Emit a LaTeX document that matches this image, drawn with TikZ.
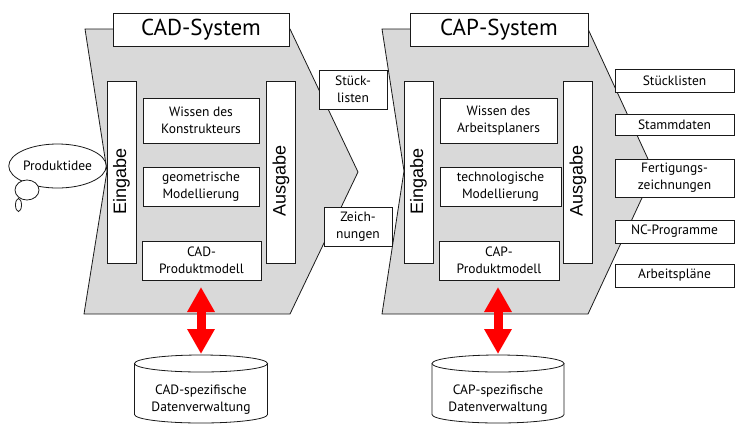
\documentclass[tikz,border=0pt]{standalone}
\usepackage{fontspec}
\setmainfont{PT Sans}
\newfontfamily\arialf{Liberation Sans}
\usetikzlibrary{arrows.meta,shapes.geometric}
\definecolor{panelgray}{HTML}{D9D9D9}
\definecolor{ink}{HTML}{1A1A1A}
\tikzset{
  box/.style={draw=ink, fill=white, line width=0.8pt, inner sep=0pt, align=center,
    font=\fontsize{13.5}{17}\selectfont},
  titlebox/.style={box, font=\fontsize{23}{25}\selectfont},
  bar/.style={box, rotate=90, minimum width=182pt, minimum height=29pt,
    font=\arialf\fontsize{18}{18}\selectfont},
  panel/.style={draw=ink, fill=panelgray, line width=0.8pt},
  bubble/.style={ellipse, draw=ink, fill=white, line width=0.8pt, inner sep=0pt,
    font=\fontsize{13.5}{17}\selectfont},
  dbline/.style={draw=ink, fill=white, line width=0.8pt},
  dbtext/.style={inner sep=0pt, align=center, font=\fontsize{13.5}{17}\selectfont},
  bigarrow/.style={draw=red, line width=9pt,
    {Triangle[width=26pt,length=25pt]}-{Triangle[width=26pt,length=25pt]}}
}
\begin{document}
\begin{tikzpicture}[x=1pt,y=-1pt]
\useasboundingbox (0,0) rectangle (735,424);

% ---------- CAD system panel ----------
\draw[panel] (85,29) -- (290,29) -- (358,172) -- (290,314) -- (84,314) -- (107,171) -- cycle;
% ---------- CAP system panel ----------
\draw[panel] (382,29) -- (588,29) -- (654,172) -- (588,314) -- (382,314) -- (404,171) -- cycle;

% CAD
\node[titlebox, minimum width=176pt, minimum height=33pt] (cadtitle) at (201,29.5) {CAD-System};
\node[bar] (cadin) at (121.5,172) {Eingabe\hspace*{18pt}};
\node[bar] (cadout) at (281,172) {Ausgabe\hspace*{18pt}};
\node[box, minimum width=116pt, minimum height=45pt] (cadw) at (201,120.5) {Wissen des\\Konstrukteurs};
\node[box, minimum width=116pt, minimum height=39pt] (cadg) at (201,186.5) {geometrische\\Modellierung};
\node[box, minimum width=119pt, minimum height=39pt] (cadpm) at (201.5,260.5) {CAD-\\Produktmodell};
\node[box, minimum width=68pt, minimum height=39pt] (stl) at (353,89.5) {Stück-\\listen};
\node[box, minimum width=68pt, minimum height=39pt] (zei) at (358,226.5) {Zeich-\\nungen};

% CAP
\node[titlebox, minimum width=178pt, minimum height=33pt] (captitle) at (499,29.5) {CAP-System};
\node[bar] (capin) at (418.5,172) {Eingabe\hspace*{18pt}};
\node[bar] (capout) at (578,172) {Ausgabe\hspace*{18pt}};
\node[box, minimum width=117pt, minimum height=45pt] (capw) at (498.5,120.5) {Wissen des\\Arbeitsplaners};
\node[box, minimum width=121pt, minimum height=39pt] (capt) at (500.5,186.5) {technologische\\Modellierung};
\node[box, minimum width=120pt, minimum height=39pt] (cappm) at (499,260.5) {CAP-\\Produktmodell};

% outputs
\node[box, minimum width=119pt, minimum height=23pt] (o1) at (674.5,80.5) {Stücklisten};
\node[box, minimum width=119pt, minimum height=21pt] (o2) at (674.5,124.5) {Stammdaten};
\node[box, minimum width=119pt, minimum height=38pt] (o3) at (674.5,178) {Fertigungs-\\zeichnungen};
\node[box, minimum width=119pt, minimum height=23pt] (o4) at (674.5,231.5) {NC-Programme};
\node[box, minimum width=119pt, minimum height=23pt] (o5) at (674.5,275.5) {Arbeitspläne};

% thought bubble
\node[bubble, minimum width=97pt, minimum height=44pt] (idee) at (57.5,166) {Produktidee};
\node[bubble, minimum width=24pt, minimum height=20pt] (b1) at (27,190) {};
\node[bubble, minimum width=6pt, minimum height=13pt] (b2) at (18.5,205) {};

% databases
\draw[dbline] (134.5,363.5) -- (134.5,414.5) arc[start angle=180, end angle=360, x radius=66.5pt, y radius=8.5pt] -- (267.5,363.5);
\draw[dbline] (201,363.5) ellipse[x radius=66.5pt, y radius=8.5pt];
\coordinate (db1top) at (201,355);
\node[dbtext] (db1) at (201,400) {CAD-spezifische\\Datenverwaltung};

\draw[dbline] (432,363.5) -- (432,414.5) arc[start angle=180, end angle=360, x radius=66pt, y radius=8.5pt] -- (564,363.5);
\draw[dbline] (498,363.5) ellipse[x radius=66pt, y radius=8.5pt];
\coordinate (db2top) at (498,355);
\node[dbtext] (db2) at (498,400) {CAP-spezifische\\Datenverwaltung};

% red double arrows
\coordinate (a1s) at (201,287);
\coordinate (a1e) at (201,354);
\draw[bigarrow] (a1s) -- (a1e);
\coordinate (a2s) at (498,287);
\coordinate (a2e) at (498,354);
\draw[bigarrow] (a2s) -- (a2e);
\end{tikzpicture}
\end{document}
